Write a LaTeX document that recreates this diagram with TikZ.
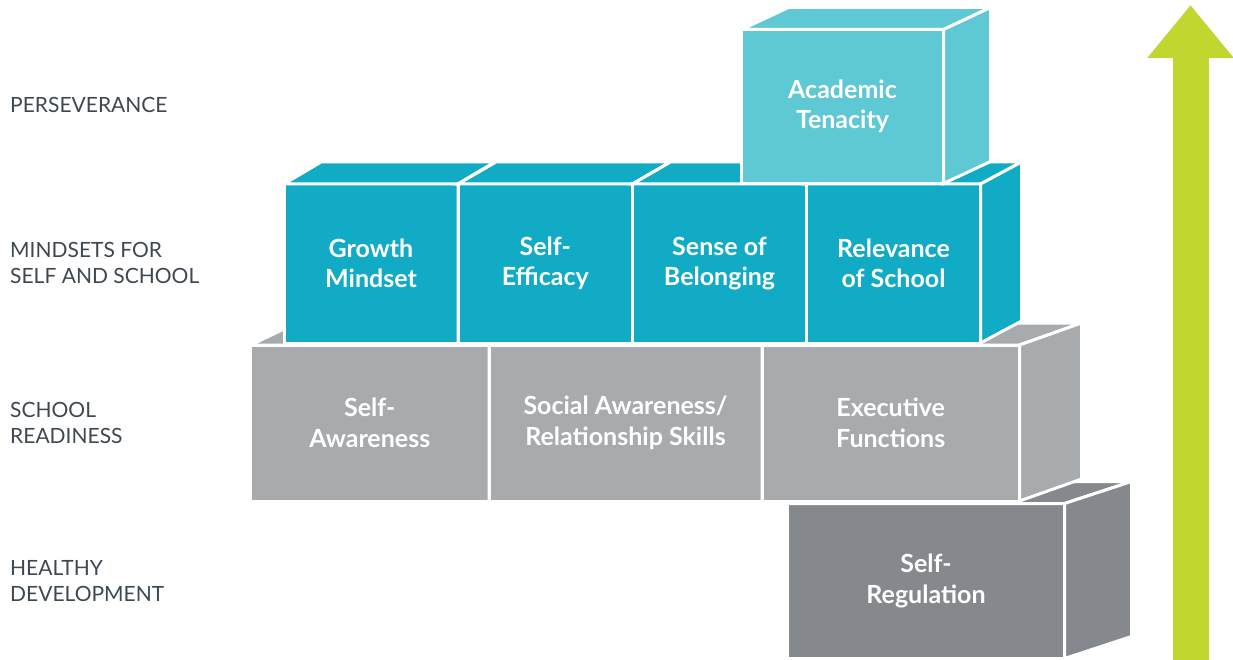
\documentclass[tikz,border=0pt]{standalone}
\usepackage{fontspec}
\setmainfont{Lato}
\usetikzlibrary{arrows.meta}
\definecolor{tealc}{HTML}{12ABC5}
\definecolor{lteal}{HTML}{5EC8D4}
\definecolor{greyc}{HTML}{A7ABAE}
\definecolor{dgrey}{HTML}{85898D}
\definecolor{arrowc}{HTML}{C1D72F}
\definecolor{labelc}{HTML}{3E4852}
\tikzset{
  face/.style={draw=white, line width=3pt},
  frontface/.style={face, inner sep=0pt, outer sep=0pt, text=white, align=center,
    font=\fontsize{25}{30.5}\selectfont\bfseries, anchor=north west},
  lvl/.style={anchor=west, align=left, text=labelc, font=\fontsize{21}{26}\selectfont, inner sep=0pt},
}
% #1 name, #2 colour, #3 x1, #4 y1, #5 x2, #6 y2, #7 depth dx, #8 text
\newcommand\mkblock[8]{%
  \node[frontface, fill=#2, minimum width={(#5-#3)*1pt}, minimum height={(#6-#4)*1pt}] (#1) at (#3,#4) {#8};
  \filldraw[face, fill=#2] (#1.north west) -- ++(#7,-22) -- ([shift={(#7,-22)}]#1.north east) -- (#1.north east) -- cycle;
  \filldraw[face, fill=#2] (#1.north east) -- ++(#7,-22) -- ([shift={(#7,-22)}]#1.south east) -- (#1.south east) -- cycle;
}
\begin{document}
\begin{tikzpicture}[x=1pt, y=-1pt]
\useasboundingbox (0,0) rectangle (1233,660);
% level labels
\node[lvl] (lperse) at (10,105) {PERSEVERANCE};
\node[lvl] (lmind) at (10,263) {MINDSETS FOR\\SELF AND SCHOOL};
\node[lvl] (lready) at (10,423) {SCHOOL\\READINESS};
\node[lvl] (lhealth) at (10,581) {HEALTHY\\DEVELOPMENT};
% healthy development
\mkblock{selfreg}{dgrey}{787.5}{503.5}{1064.5}{658.5}{67}{Self-\\Regulation}
% school readiness
\mkblock{selfaw}{greyc}{250.5}{345}{489}{501}{46}{Self-\\Awareness}
\mkblock{social}{greyc}{489}{345}{762}{501}{55}{Social Awareness/\\Relationship Skills}
\mkblock{exec}{greyc}{762}{345}{1019.5}{501}{62}{Executive\\Functions}
% mindsets
\mkblock{growth}{tealc}{284}{184}{458}{343}{37}{Growth\\Mindset}
\mkblock{efficacy}{tealc}{458}{184}{632.5}{343}{38}{Self-\\Efficacy}
\mkblock{belong}{tealc}{632.5}{184}{806.5}{343}{38}{Sense of\\Belonging}
\mkblock{relev}{tealc}{806.5}{184}{980.5}{343}{41}{Relevance\\of School}
% perseverance
\mkblock{tenacity}{lteal}{741.5}{29.5}{943.5}{183.5}{47}{Academic\\Tenacity}
% arrow
\coordinate (arrowbase) at (1190.5,662);
\coordinate (arrowtip) at (1190.5,5);
\draw[draw=arrowc, line width=36pt, -{Triangle[width=83pt,length=53pt]}] (arrowbase) -- (arrowtip);
\end{tikzpicture}
\end{document}
